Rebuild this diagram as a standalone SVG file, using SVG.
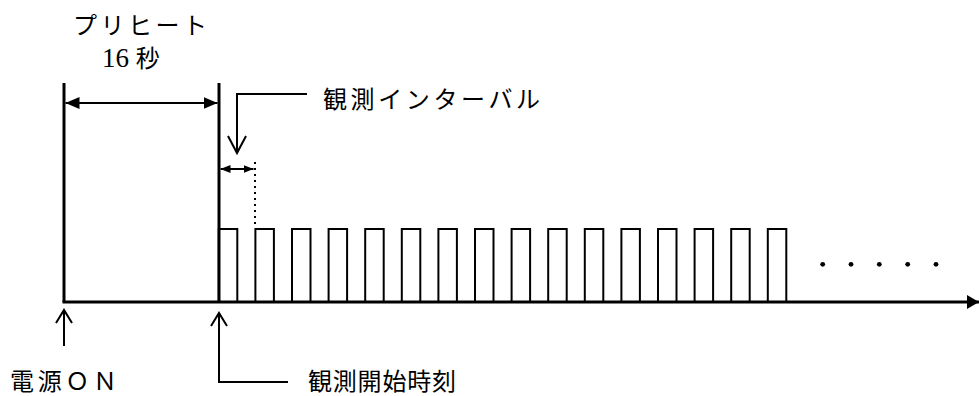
<svg xmlns="http://www.w3.org/2000/svg" width="979" height="396" viewBox="0 0 979 396">
<style>
.cjk{font-family:"Noto Sans CJK JP","Noto Sans",sans-serif;font-size:24px;fill:#000}
.ser{font-family:"Liberation Serif",serif;font-size:27px;fill:#000}
.thick{stroke:#000;stroke-width:3;fill:none}
.thin{stroke:#000;stroke-width:2;fill:none}
</style>
<defs>
<marker id="fa" viewBox="0 0 14 12" refX="14" refY="6" markerWidth="14" markerHeight="12" markerUnits="userSpaceOnUse" orient="auto-start-reverse"><path d="M0,0 L14,6 L0,12 z" fill="#000"/></marker>
<marker id="fs" viewBox="0 0 10 8" refX="10" refY="4" markerWidth="10" markerHeight="8" markerUnits="userSpaceOnUse" orient="auto-start-reverse"><path d="M0,0 L10,4 L0,8 z" fill="#000"/></marker>
<marker id="fx" viewBox="0 0 12 14" refX="12" refY="7" markerWidth="12" markerHeight="14" markerUnits="userSpaceOnUse" orient="auto"><path d="M0,0 L12,7 L0,14 z" fill="#000"/></marker>
</defs>

<g id="signal">
<line class="thick" x1="64" y1="83" x2="64" y2="302"/>
<line class="thick" x1="219" y1="83" x2="219" y2="302"/>
<path class="thin" d="M218.8,302V229H237.3V302 M255.4,302V229H273.9V302 M292,302V229H310.5V302 M328.6,302V229H347.1V302 M365.2,302V229H383.7V302 M401.8,302V229H420.3V302 M438.4,302V229H456.9V302 M475,302V229H493.5V302 M511.6,302V229H530.1V302 M548.2,302V229H566.7V302 M584.8,302V229H603.3V302 M621.4,302V229H639.9V302 M658,302V229H676.5V302 M694.6,302V229H713.1V302 M731.2,302V229H749.7V302 M767.8,302V229H786.3V302"/>
<g fill="#000">
<circle cx="822.7" cy="264.3" r="2.4"/>
<circle cx="851" cy="264.3" r="2.4"/>
<circle cx="879.3" cy="264.3" r="2.4"/>
<circle cx="907.7" cy="264.3" r="2.4"/>
<circle cx="936" cy="264.3" r="2.4"/>
</g>
</g>

<g id="connectors">
<line class="thick" x1="62.5" y1="302" x2="979" y2="302" marker-end="url(#fx)"/>
<line class="thin" x1="65.5" y1="103" x2="217.5" y2="103" marker-start="url(#fa)" marker-end="url(#fa)"/>
<line class="thin" x1="220.5" y1="169" x2="253.5" y2="169" marker-start="url(#fs)" marker-end="url(#fs)"/>
<line stroke="#000" stroke-width="2" stroke-dasharray="2 4" x1="255" y1="162" x2="255" y2="226"/>
<path class="thin" d="M307,94H237V153 M228,136L237,153L246,136"/>
<path class="thin" d="M64,346V310 M56,323L64,310L72,323"/>
<path class="thin" d="M288,382H219V313 M211,326L219,313L227,326"/>
</g>

<g id="label-preheat">
<text class="cjk" x="73" y="34" font-size="23" textLength="134" lengthAdjust="spacing">プリヒート</text>
<text x="102" y="67"><tspan class="ser">16 </tspan><tspan class="cjk">秒</tspan></text>
</g>
<g id="label-interval">
<text class="cjk" x="323" y="108" textLength="217" lengthAdjust="spacing">観測インターバル</text>
</g>
<g id="label-power">
<text class="cjk" x="10" y="390" textLength="107" lengthAdjust="spacing">電源ＯＮ</text>
</g>
<g id="label-start">
<text class="cjk" x="308" y="390" textLength="148" lengthAdjust="spacing">観測開始時刻</text>
</g>
</svg>
